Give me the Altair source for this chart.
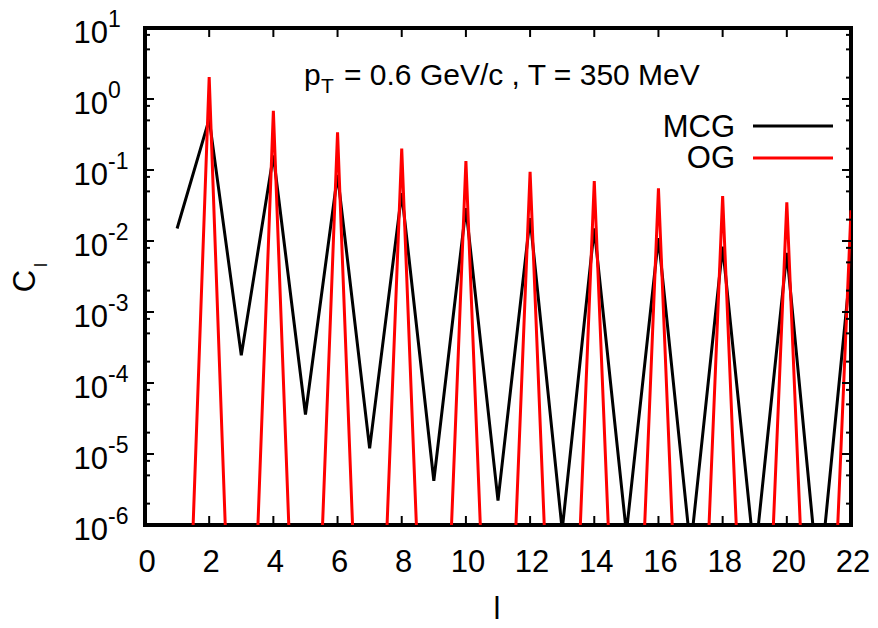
import altair as alt
import pandas as pd

FONT = "Liberation Sans"

# ---- data ----
l_vals = list(range(1, 23))
mcg = [0.015, 0.52, 2.45e-4, 0.16, 3.6e-5, 0.085, 1.2e-5, 0.047, 4.2e-6, 0.029,
       2.2e-6, 0.021, 8.5e-7, 0.015, 7.8e-7, 0.011, 4.6e-7, 0.0083, 3.2e-7, 0.0068,
       1.3e-7, 0.005]
og = [5e-13, 2.04, 5e-13, 0.68, 5e-13, 0.34, 5e-13, 0.20, 5e-13, 0.134,
      5e-13, 0.094, 5e-13, 0.070, 5e-13, 0.055, 5e-13, 0.043, 5e-13, 0.035,
      5e-13, 0.027]
series_names = ["MCG", "OG"]
series_colors = ["#000000", "#ff0000"]
x_tick_vals = list(range(0, 23, 2))
x_tick_labels = [str(v) for v in x_tick_vals]
y_exponents = [-6, -5, -4, -3, -2, -1, 0, 1]
y_minor_mult = [2, 5, 8]
annotation_main = "= 0.6 GeV/c , T = 350 MeV"
x_title = "l"
y_title = "C"
y_title_sub = "l"

W, H = 706, 497

xscale = alt.Scale(domain=[0, 22], nice=False, zero=False)
yscale = alt.Scale(type="log", domain=[1e-6, 10], nice=False)

df_mcg = pd.DataFrame({"l": l_vals, "C": mcg})
df_og = pd.DataFrame({"l": l_vals, "C": og})
df_one = pd.DataFrame({"k": [0]})

X = lambda: alt.X("l:Q", scale=xscale, axis=None)
Y = lambda: alt.Y("C:Q", scale=yscale, axis=None)

line_mcg = alt.Chart(df_mcg).mark_line(
    clip=True, strokeWidth=3, color=series_colors[0], strokeJoin="miter"
).encode(x=X(), y=Y())
line_og = alt.Chart(df_og).mark_line(
    clip=True, strokeWidth=3, color=series_colors[1], strokeJoin="miter"
).encode(x=X(), y=Y())

# ticks
df_xt = pd.DataFrame({"l": x_tick_vals, "lab": x_tick_labels})
xt_bottom = alt.Chart(df_xt).mark_rule(color="black", strokeWidth=2).encode(
    x=X(), y=alt.value(H), y2=alt.value(H - 9))
xt_top = alt.Chart(df_xt).mark_rule(color="black", strokeWidth=2).encode(
    x=X(), y=alt.value(0), y2=alt.value(9))
x_labels = alt.Chart(df_xt).mark_text(
    align="center", baseline="alphabetic", fontSize=31, font=FONT, dx=2, color="black"
).encode(x=X(), y=alt.value(H + 47), text="lab:N")

df_ymaj = pd.DataFrame({"C": [10.0 ** k for k in y_exponents],
                        "exp": [str(k) for k in y_exponents]})
minor_vals = [m * 10.0 ** k for k in y_exponents[:-1] for m in y_minor_mult]
df_ymin = pd.DataFrame({"C": minor_vals})

yt_left = alt.Chart(df_ymaj).mark_rule(color="black", strokeWidth=2).encode(
    x=alt.value(0), x2=alt.value(9), y=Y())
yt_right = alt.Chart(df_ymaj).mark_rule(color="black", strokeWidth=2).encode(
    x=alt.value(W), x2=alt.value(W - 9), y=Y())
ym_left = alt.Chart(df_ymin).mark_rule(color="black", strokeWidth=2).encode(
    x=alt.value(0), x2=alt.value(5), y=Y())
ym_right = alt.Chart(df_ymin).mark_rule(color="black", strokeWidth=2).encode(
    x=alt.value(W), x2=alt.value(W - 5), y=Y())

y_base = alt.Chart(df_ymaj).mark_text(
    align="right", baseline="alphabetic", fontSize=31, font=FONT, dy=14.5, color="black"
).encode(x=alt.value(-37), y=Y(), text=alt.value("10"))
y_exp = alt.Chart(df_ymaj).mark_text(
    align="left", baseline="alphabetic", fontSize=23, font=FONT, dy=-1, color="black"
).encode(x=alt.value(-37), y=Y(), text="exp:N")


def const_text(txt, x, y, size, align="left", angle=None):
    kw = dict(align=align, baseline="alphabetic", fontSize=size, font=FONT, color="black")
    if angle is not None:
        kw["angle"] = angle
    return alt.Chart(df_one).mark_text(**kw).encode(
        x=alt.value(x), y=alt.value(y), text=alt.value(txt))


# titles
xt_title = const_text(x_title, 352, 591, 31, align="center")
yt_title = const_text(y_title, -110, 253, 31, align="center", angle=270)
yt_title_sub = const_text(y_title_sub, -98, 239, 18, align="left", angle=270)

# annotation
ann_p = const_text("p", 159, 57, 30)
ann_T = const_text("T", 176, 65, 21)
ann_rest = const_text(annotation_main, 199, 57, 30)

# legend
leg_mcg_t = const_text(series_names[0], 590, 108.5, 31, align="right")
leg_og_t = const_text(series_names[1], 590, 140, 31, align="right")
leg_mcg_l = alt.Chart(df_one).mark_rule(color=series_colors[0], strokeWidth=3).encode(
    x=alt.value(608), x2=alt.value(688), y=alt.value(98))
leg_og_l = alt.Chart(df_one).mark_rule(color=series_colors[1], strokeWidth=3).encode(
    x=alt.value(608), x2=alt.value(688), y=alt.value(130))

chart = alt.layer(
    line_mcg, line_og,
    xt_bottom, xt_top, yt_left, yt_right, ym_left, ym_right,
    x_labels, y_base, y_exp,
    xt_title, yt_title, yt_title_sub,
    ann_p, ann_T, ann_rest,
    leg_mcg_t, leg_og_t, leg_mcg_l, leg_og_l,
).properties(
    width=W, height=H, autosize="none",
    padding={"left": 137, "top": 20, "right": 19, "bottom": 99},
).configure_view(stroke="black", strokeWidth=4)

chart.save("out.html", embed_options={"renderer": "svg", "actions": False})
